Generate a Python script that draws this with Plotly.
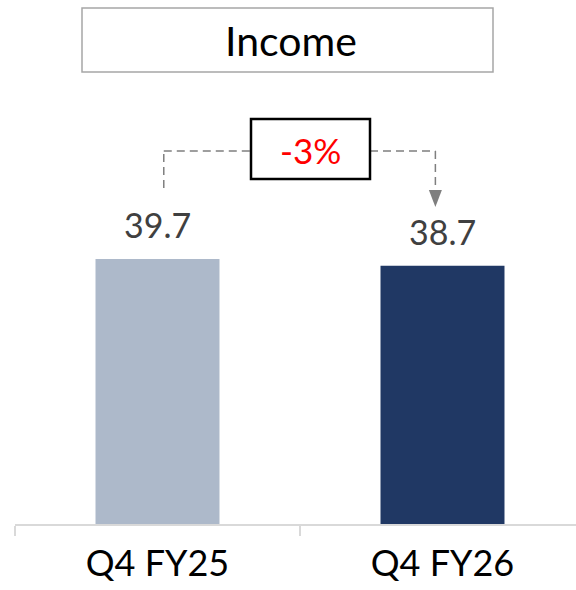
import plotly.graph_objects as go

categories = ["Q4 FY25", "Q4 FY26"]
values = [39.7, 38.7]
value_labels = ["39.7", "38.7"]
change_label = "-3%"
title_text = "Income"
bar_colors = ["#adb9ca", "#203864"]

W, H = 576, 590
mt, mb, ml, mr = 0, 66, 15, 0
plot_h = H - mt - mb
px_per_unit = 6.675
ymax = plot_h / px_per_unit
cat_px = 285.0
plot_w = W - ml - mr
xmax = -0.5 + plot_w / cat_px


def py(pix):
    """pixel row -> data y"""
    return (H - mb - pix) / px_per_unit


def px(pix):
    return -0.5 + (pix - ml) / cat_px


fig = go.Figure()
fig.add_trace(go.Bar(
    x=categories, y=values, marker=dict(color=bar_colors, line=dict(width=0)),
    width=0.435, hoverinfo="skip",
))

ann = []
for c, v, t in zip(categories, values, value_labels):
    ann.append(dict(x=c, y=v, text=t, showarrow=False, yanchor="bottom", yshift=12,
                    font=dict(family="Lato", size=34, color="#404040")))

# title box
ann.append(dict(xref="paper", yref="paper", x=(291 - ml) / plot_w, y=1 - (41 - mt) / plot_h,
                text=title_text, showarrow=False, xanchor="center", yanchor="middle",
                font=dict(family="Lato", size=41, color="#000000")))

# change box text
ann.append(dict(x=px(310), y=py(150), text=change_label, showarrow=False,
                xanchor="center", yanchor="middle",
                font=dict(family="Lato", size=35, color="#ff0000")))

shapes = []
# title rectangle
shapes.append(dict(type="rect", xref="paper", yref="paper",
                   x0=(82 - ml) / plot_w, x1=(493 - ml) / plot_w,
                   y0=1 - (72 - mt) / plot_h, y1=1 - (8 - mt) / plot_h,
                   line=dict(color="#a6a6a6", width=1.5), fillcolor="rgba(0,0,0,0)"))
# connector
dash = dict(color="#7f7f7f", width=1.5, dash="8px,5px")
x_left = 0 + 0.022
x_right = 1 - 0.025
y_h = py(151)
shapes.append(dict(type="line", xref="x", yref="y", x0=x_left, x1=x_left,
                   y0=py(188), y1=y_h, line=dash))
shapes.append(dict(type="line", xref="x", yref="y", x0=x_left, x1=px(251),
                   y0=y_h, y1=y_h, line=dash))
shapes.append(dict(type="line", xref="x", yref="y", x0=px(370), x1=x_right,
                   y0=y_h, y1=y_h, line=dash))
shapes.append(dict(type="line", xref="x", yref="y", x0=x_right, x1=x_right,
                   y0=y_h, y1=py(192), line=dash))
# arrowhead
tw = 6.5 / cat_px
shapes.append(dict(type="path", xref="x", yref="y",
                   path=f"M {x_right - tw} {py(190)} L {x_right + tw} {py(190)} L {x_right} {py(207)} Z",
                   fillcolor="#7f7f7f", line=dict(width=0)))
# change box
shapes.append(dict(type="rect", xref="x", yref="y", x0=px(251), x1=px(370),
                   y0=py(179), y1=py(119), line=dict(color="#000000", width=2.5),
                   fillcolor="rgba(0,0,0,0)"))

fig.update_layout(
    width=W, height=H,
    margin=dict(l=ml, r=mr, t=mt, b=mb),
    paper_bgcolor="white", plot_bgcolor="white",
    showlegend=False, annotations=ann, shapes=shapes,
    xaxis=dict(type="category", range=[-0.5, xmax], showline=True, linecolor="#d9d9d9",
               linewidth=1.5, ticks="outside", tickson="boundaries", ticklen=10,
               tickcolor="#d9d9d9", tickwidth=1.5, showgrid=False, zeroline=False,
               tickfont=dict(family="Lato", size=36, color="#000000"),
               ticklabelstandoff=7, fixedrange=True),
    yaxis=dict(range=[0, ymax], visible=False, fixedrange=True),
)

fig.write_html("out.html", config={"displayModeBar": False},
               post_script="document.body.style.margin='0';document.body.style.overflow='hidden';")
